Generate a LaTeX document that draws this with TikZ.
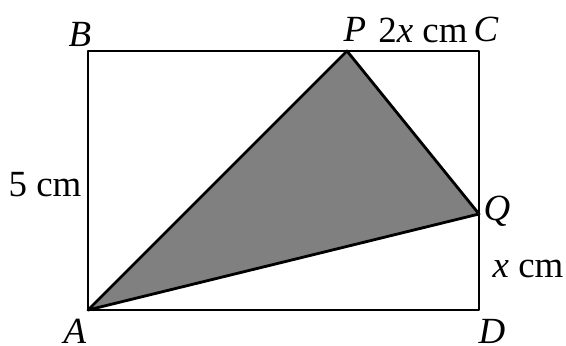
\documentclass[tikz,border=0pt]{standalone}
\usepackage{fontspec}
\setmainfont{Liberation Serif}

\begin{document}
\begin{tikzpicture}[line width=1.6pt,line join=round,
    lbl/.style={font=\fontsize{21}{25}\selectfont,inner sep=0pt}]
  \useasboundingbox (0,0) rectangle (11.32,-6.9);
  \coordinate (A) at (1.76,-6.2);
  \coordinate (B) at (1.76,-1.02);
  \coordinate (C) at (9.58,-1.02);
  \coordinate (D) at (9.58,-6.2);
  \coordinate (P) at (6.94,-1.02);
  \coordinate (Q) at (9.58,-4.28);
  \draw[fill=black!50] (A) -- (P) -- (Q) -- cycle;
  \draw (A) -- (B) -- (C) -- (D) -- cycle;
  \node[lbl] (lB) at (1.6,-0.68) {\textit{B}};
  \node[lbl] (lP) at (7.1,-0.58) {\textit{P}};
  \node[lbl] (lPC) at (8.46,-0.6) {2\textit{x} cm};
  \node[lbl] (lC) at (9.72,-0.58) {\textit{C}};
  \node[lbl] (l5) at (0.9,-3.7) {5 cm};
  \node[lbl] (lQ) at (9.94,-4.22) {\textit{Q}};
  \node[lbl] (lx) at (10.56,-5.38) {\textit{x} cm};
  \node[lbl] (lA) at (1.5,-6.62) {\textit{A}};
  \node[lbl] (lD) at (9.84,-6.62) {\textit{D}};
\end{tikzpicture}
\end{document}
